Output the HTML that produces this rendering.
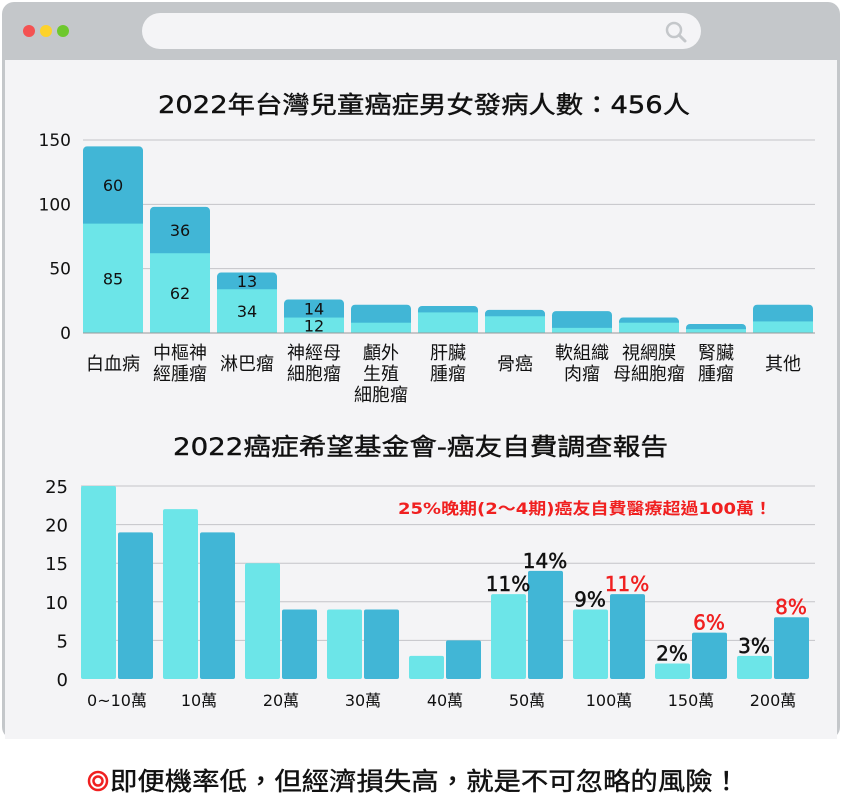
<!DOCTYPE html>
<html><head><meta charset="utf-8">
<style>
html,body{margin:0;padding:0;background:#fff;}
body{width:842px;height:806px;overflow:hidden;}
svg text{font-family:"DejaVu Sans","Noto Sans CJK TC",sans-serif;}
</style></head><body>
<svg id="s" width="842" height="806" viewBox="0 0 842 806" xmlns="http://www.w3.org/2000/svg">
<rect x="2" y="2" width="838" height="737" rx="12" fill="#c4c7ca"/>
<rect x="5" y="60" width="832" height="679" fill="#f4f4f6"/>
<rect x="142" y="13" width="559" height="36" rx="18" fill="#f4f4f6"/>
<circle cx="29" cy="31" r="6" fill="#f45252"/>
<circle cx="46" cy="31" r="6" fill="#fdd22b"/>
<circle cx="63" cy="31" r="6" fill="#6ec82d"/>
<circle cx="674" cy="30" r="7" fill="none" stroke="#c4c7ca" stroke-width="2.5"/>
<line x1="679" y1="35" x2="685" y2="41" stroke="#c4c7ca" stroke-width="3" stroke-linecap="round"/>
<text x="158" y="113" font-size="24" textLength="532" lengthAdjust="spacingAndGlyphs" fill="#111" stroke="#111" stroke-width="0.4">2022年台灣兒童癌症男女發病人數：456人</text>
<text x="173" y="455" font-size="24" textLength="495" lengthAdjust="spacingAndGlyphs" fill="#111" stroke="#111" stroke-width="0.4">2022癌症希望基金會-癌友自費調查報告</text>
<g id="c1"></g><g id="c2"></g>
<circle cx="98" cy="781" r="9" fill="none" stroke="#f02020" stroke-width="2.5"/>
<circle cx="98" cy="781" r="4.5" fill="none" stroke="#f02020" stroke-width="2.5"/>
<text x="110" y="790" font-size="25" textLength="630" lengthAdjust="spacingAndGlyphs" fill="#111" stroke="#111" stroke-width="0.4">即便機率低，但經濟損失高，就是不可忽略的風險！</text>
</svg>
<script>
const NS="http://www.w3.org/2000/svg";
function el(p,t,a,txt){const e=document.createElementNS(NS,t);for(const k in a)e.setAttribute(k,a[k]);if(txt!==undefined)e.textContent=txt;p.appendChild(e);return e;}
const L="#6ce5e8",D="#41b6d6";
const c1=document.getElementById("c1");
const y0=333,sc=193/150;
[[0,"0"],[50,"50"],[100,"100"],[150,"150"]].forEach(([v,t])=>{
 const y=y0-v*sc;
 if(v>0)el(c1,"line",{x1:83,x2:815,y1:y,y2:y,stroke:"#c4c4c8","stroke-width":1});
 el(c1,"text",{x:71,y:y+6,"font-size":17,"text-anchor":"end",fill:"#111"},t);
});
const d1=[[85,60,"白血病"],[62,36,"中樞神|經腫瘤"],[34,13,"淋巴瘤"],[12,14,"神經母|細胞瘤"],[8,14,"顱外|生殖|細胞瘤"],[16,5,"肝臟|腫瘤"],[13,5,"骨癌"],[4,13,"軟組織|肉瘤"],[8,4,"視網膜|母細胞瘤"],[3,4,"腎臟|腫瘤"],[9,13,"其他"]];
d1.forEach(([a,b,n],i)=>{
 const x=83+67*i,w=60;
 const yt=y0-(a+b)*sc,ym=y0-a*sc;
 el(c1,"rect",{x:x,y:yt,width:w,height:(a+b)*sc,rx:4,fill:D});
 el(c1,"rect",{x:x,y:ym,width:w,height:a*sc,fill:L});
 if(i<4){
  el(c1,"text",{x:x+w/2,y:(ym+y0)/2+6,"font-size":16,"text-anchor":"middle",fill:"#111"},a);
  el(c1,"text",{x:x+w/2,y:(yt+ym)/2+6,"font-size":16,"text-anchor":"middle",fill:"#111"},b);
 }
 const lines=n.split("|");
 const start=lines.length==1?370:359;
 lines.forEach((t,j)=>el(c1,"text",{x:x+w/2,y:start+j*21,"font-size":18,"text-anchor":"middle",fill:"#111"},t));
});
el(c1,"line",{x1:83,x2:815,y1:y0,y2:y0,stroke:"#999","stroke-width":1});
const c2=document.getElementById("c2");
const z0=679,s2=193/25;
[0,5,10,15,20,25].forEach(v=>{
 const y=z0-v*s2;
 if(v>0)el(c2,"line",{x1:81,x2:815,y1:y,y2:y,stroke:"#c4c4c8","stroke-width":1});
 el(c2,"text",{x:68,y:y+7,"font-size":18,"text-anchor":"end",fill:"#111"},v);
});
const d2=[[25,19,"0~10萬"],[22,19,"10萬"],[15,9,"20萬"],[9,9,"30萬"],[3,5,"40萬"],[11,14,"50萬","#111"],[9,11,"100萬","#f02020"],[2,6,"150萬","#f02020"],[3,8,"200萬","#f02020"]];
d2.forEach(([a,b,n,col],i)=>{
 const x=81+82*i,w=35;
 el(c2,"rect",{x:x,y:z0-a*s2,width:w,height:a*s2,rx:2,fill:L});
 el(c2,"rect",{x:x+37,y:z0-b*s2,width:w,height:b*s2,rx:2,fill:D});
 el(c2,"text",{x:x+36,y:706,"font-size":16,"text-anchor":"middle",fill:"#111"},n);
 if(col){
  el(c2,"text",{x:x+17,y:z0-a*s2-3,"font-size":20,"text-anchor":"middle",fill:"#111",stroke:"#111","stroke-width":0.5},a+"%");
  el(c2,"text",{x:x+54,y:z0-b*s2-3,"font-size":20,"text-anchor":"middle",fill:col,stroke:col,"stroke-width":0.5},b+"%");
 }
});
el(c2,"text",{x:398,y:514,"font-size":16,textLength:374,lengthAdjust:"spacingAndGlyphs",fill:"#f02020","font-weight":"bold"},"25%晚期(2～4期)癌友自費醫療超過100萬！");
</script>
</body></html>
